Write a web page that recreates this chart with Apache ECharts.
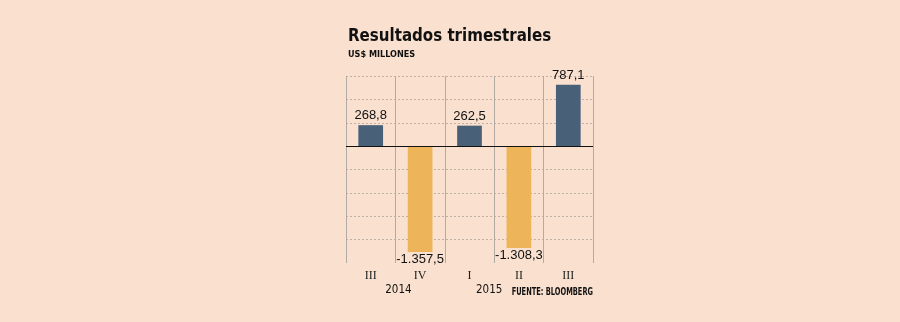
<!DOCTYPE html>
<html>
<head>
<meta charset="utf-8">
<script src="https://cdn.jsdelivr.net/npm/echarts@6/dist/echarts.min.js"></script>
<style>
html,body{margin:0;padding:0;background:#f9e0cf;}
#c{width:900px;height:322px;}
</style>
</head>
<body>
<div id="c"></div>
<script>
var categories = ['III', 'IV', 'I', 'II', 'III'];
var values = [268.8, -1357.5, 262.5, -1308.3, 787.1];
var years = [
  { label: '2014', from: 0, to: 1 },
  { label: '2015', from: 2, to: 3 }
];
var yMin = -1500, yMax = 900, yInterval = 300;
var titleText = 'Resultados trimestrales';
var subtitleText = 'US$ MILLONES';
var sourceText = 'FUENTE: BLOOMBERG';

// small visual nudges for the year labels (style only)
var yearNudge = [3, -5];

function fmt(v) {
  var neg = v < 0;
  var s = Math.abs(v).toFixed(1);
  var parts = s.split('.');
  var ip = parts[0].replace(/\B(?=(\d{3})+(?!\d))/g, '.');
  return (neg ? '-' : '') + ip + ',' + parts[1];
}

var BLUE = '#486078', ORANGE = '#edb45a';
var COND = '"DejaVu Sans Condensed", sans-serif';

var chart = echarts.init(document.getElementById('c'), null, { renderer: 'canvas' });
var nLines = (yMax - yMin) / yInterval + 1;
var gridColors = [];
for (var i = 0; i < nLines; i++) gridColors.push(i === 0 ? 'rgba(0,0,0,0)' : '#bfb1a6');

chart.setOption({
  backgroundColor: '#f9e0cf',
  animation: false,
  grid: { left: 346, right: 307, top: 76, bottom: 59 },
  xAxis: {
    type: 'category',
    data: categories,
    axisLine: { show: false },
    axisTick: { show: false },
    axisLabel: { margin: 7, fontFamily: '"Liberation Serif", serif', fontSize: 12, color: '#222' },
    splitLine: { show: true, lineStyle: { color: '#b3aaa2', width: 1, type: 'solid' } }
  },
  yAxis: {
    type: 'value',
    min: yMin, max: yMax, interval: yInterval,
    axisLine: { show: false },
    axisTick: { show: false },
    axisLabel: { show: false },
    splitLine: { show: true, lineStyle: { color: gridColors, type: [2, 2], width: 1 } }
  },
  series: [{
    type: 'bar',
    barWidth: '50%',
    data: values.map(function (v) {
      return {
        value: v,
        itemStyle: { color: v >= 0 ? BLUE : ORANGE },
        label: { position: v >= 0 ? 'top' : 'bottom', distance: v >= 0 ? 3 : 1 }
      };
    }),
    label: {
      show: true,
      formatter: function (p) { return fmt(p.value); },
      fontFamily: '"Liberation Sans", sans-serif',
      fontSize: 13,
      color: '#111'
    },
    markLine: {
      silent: true,
      symbol: 'none',
      label: { show: false },
      lineStyle: { color: '#111', type: 'solid', width: 1 },
      data: [{ yAxis: 0 }]
    }
  }]
});

var graphics = [];
graphics.push({
  type: 'text', x: 348, y: 36.5, scaleX: 0.985,
  style: { text: titleText, align: 'left', verticalAlign: 'middle',
    font: 'bold 17px ' + COND, fill: '#111' }
});
graphics.push({
  type: 'text', x: 348, y: 54.5, scaleX: 0.95,
  style: { text: subtitleText, align: 'left', verticalAlign: 'middle',
    font: 'bold 9.5px ' + COND, fill: '#111' }
});
years.forEach(function (y, i) {
  var a = chart.convertToPixel({ xAxisIndex: 0 }, y.from);
  var b = chart.convertToPixel({ xAxisIndex: 0 }, y.to);
  graphics.push({
    type: 'text',
    x: (a + b) / 2 + yearNudge[i],
    y: 290,
    scaleX: 0.92,
    style: {
      text: y.label,
      align: 'center',
      verticalAlign: 'middle',
      font: '12.5px ' + COND,
      fill: '#111'
    }
  });
});
graphics.push({
  type: 'text',
  x: 593,
  y: 292,
  scaleX: 0.74,
  style: {
    text: sourceText,
    align: 'right',
    verticalAlign: 'middle',
    font: 'bold 10px ' + COND,
    fill: '#111'
  }
});
chart.setOption({ graphic: graphics });
</script>
</body>
</html>
